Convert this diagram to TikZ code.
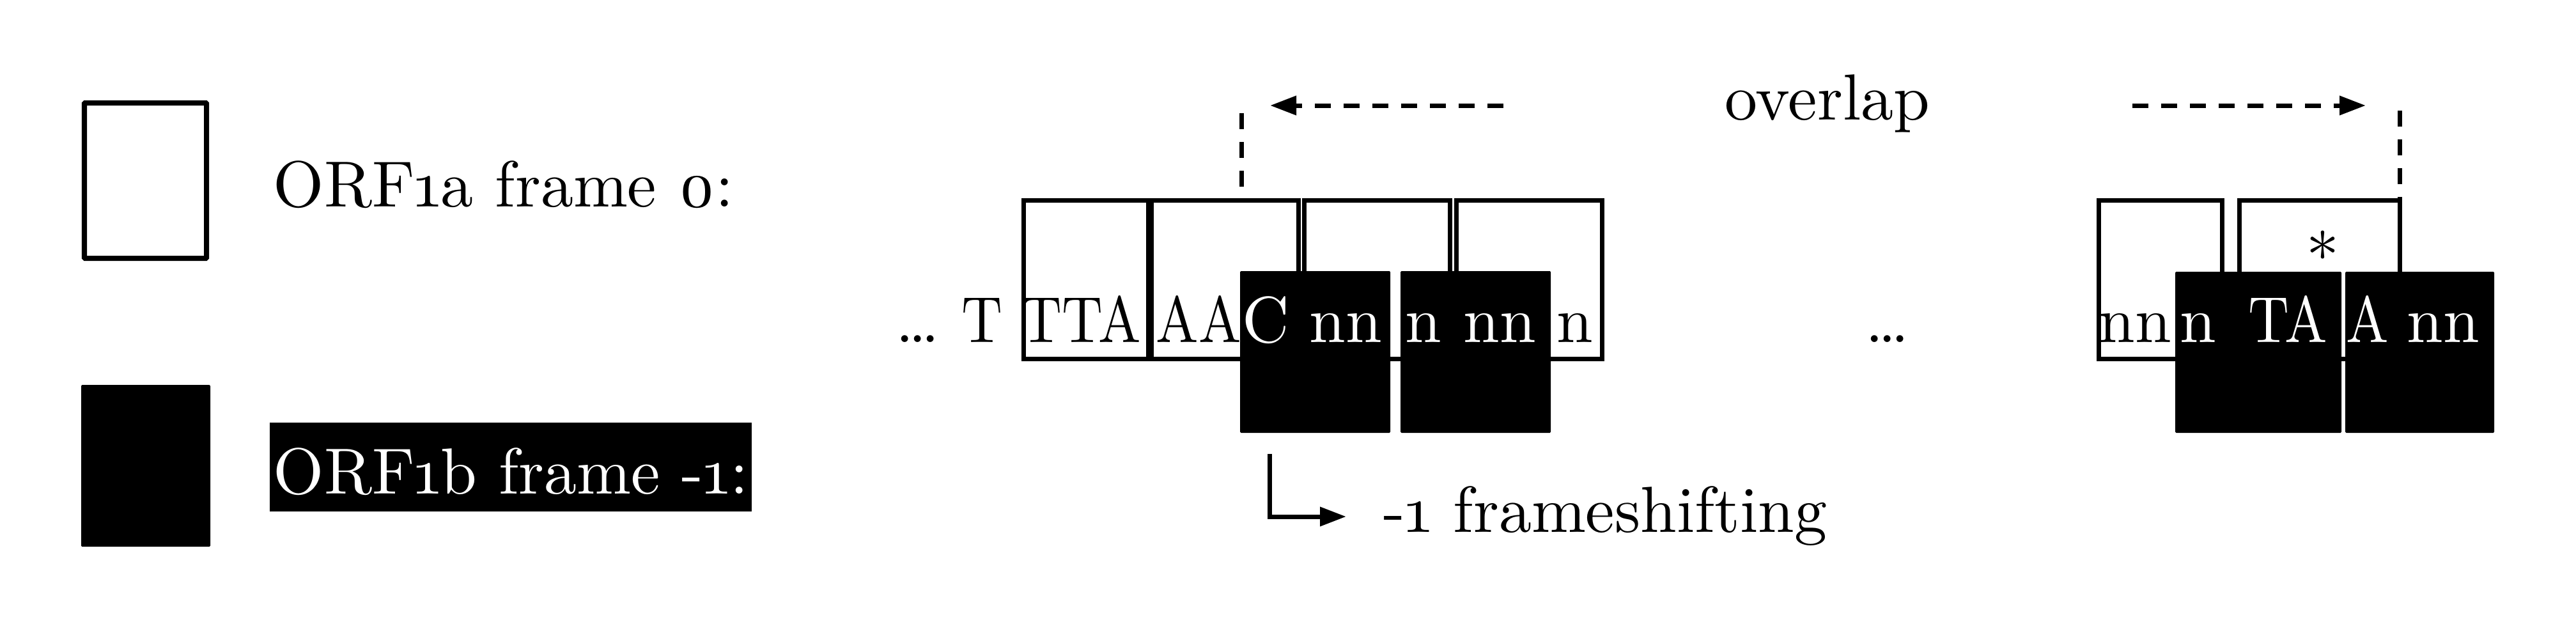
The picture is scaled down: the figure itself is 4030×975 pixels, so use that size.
\documentclass[tikz,border=0pt]{standalone}
\usepackage{fontspec}
\newfontfamily\lmten{lmroman10-regular.otf}
\usetikzlibrary{arrows.meta,fit}
\tikzset{
  wbox/.style={draw=black, line width=0.07cm, fill=white, inner sep=0pt},
  lbox/.style={draw=black, line width=0.08cm, fill=white, inner sep=0pt, rounded corners=0.01cm},
  bbox/.style={fill=black, inner sep=0pt, rounded corners=0.015cm},
  dline/.style={line width=0.07cm, dash pattern=on 0.25cm off 0.2cm},
  sline/.style={line width=0.07cm},
  tip/.style={-{Triangle[length=0.41cm,width=0.29cm]}},
  txt/.style={font=\lmten\fontsize{29}{35}\selectfont, inner sep=0pt, anchor=base west},
}
\newcommand{\nx}[1]{\scalebox{0.87}[1]{#1}}
\begin{document}
\begin{tikzpicture}[x=0.01cm,y=-0.01cm]
\useasboundingbox (0,0) rectangle (4030,975);
% legend
\node[lbox, fit={(132,161) (323,404)}] (lw) {};
\node[bbox, fit={(127,602) (329,855)}] (lb) {};
\node[txt] (la) at (427,323) {ORF\textoneoldstyle a frame \textzerooldstyle:};
\node[txt, fill=black, text=white, inner xsep=0.06cm, inner ysep=0pt, text height=1.11cm, text depth=0.28cm] (lbt) at (421,772) {ORF\textoneoldstyle b frame -\textoneoldstyle:};
% left group white boxes
\node[wbox, fit={(1601,313) (1796,561)}] (w1) {};
\node[wbox, fit={(1801,313) (2031,561)}] (w2) {};
\node[wbox, fit={(2040,313) (2268,561)}] (w3) {};
\node[wbox, fit={(2278,313) (2506,561)}] (w4) {};
% right group white boxes
\node[wbox, fit={(3283,313) (3476,561)}] (w5) {};
\node[wbox, fit={(3503,313) (3754,561)}] (w6) {};
% black-text parts under the black boxes
\node[txt] (s7) at (3283,535) {nn};
% left group black boxes
\node[bbox, fit={(1940,424) (2175,677)}] (k1) {};
\node[bbox, fit={(2191,424) (2426,677)}] (k2) {};
% right group black boxes
\node[bbox, fit={(3403,425) (3663,677)}] (k3) {};
\node[bbox, fit={(3669,425) (3902,677)}] (k4) {};
% sequence text
\node[txt, anchor=base east] (s0) at (1569,535) {\ldots\ \nx{T}};
\node[txt] (s1) at (1597,535) {\nx{TTA}};
\node[txt] (s2) at (1808,535) {\nx{AA}};
\node[txt, text=white] (s3) at (s2.base east) {C};
\node[txt, text=white] (s4) at (2048,535) {nn};
\node[txt, text=white] (s5) at (2198,535) {n nn};
\node[txt] (s6) at (2435,535) {n};
\node[txt] (dots) at (2918,535) {\ldots};
\node[txt, text=white] (s8) at (3410,535) {n};
\node[txt, text=white] (s9) at (3517,535) {\nx{TA}};
\node[txt, text=white] (s10) at (3670,535) {\nx{A}};
\node[txt, text=white] (s11) at (3765,535) {nn};
\node[txt] (star) at (3608,437) {*};
% overlap
\node[txt] (ov) at (2698,187) {overlap};
\coordinate (oa0) at (2352,165);
\coordinate (oa1) at (1987,165);
\coordinate (ob0) at (3336,165);
\coordinate (ob1) at (3701,165);
\draw[dline, tip] (oa0) -- (oa1);
\draw[dline, tip] (ob0) -- (ob1);
\coordinate (va) at (1942,177);
\coordinate (vb) at (3754,173);
\draw[dline] (va) -- (va |- w2.north);
\draw[dline] (vb) -- (vb |- w6.north);
% frameshifting
\node[txt] (fs) at (2164,832) {-\textoneoldstyle\ frameshifting};
\coordinate (f0) at (1986,710);
\coordinate (f1) at (2106,808);
\draw[sline, tip] (f0) |- (f1);
\end{tikzpicture}
\end{document}
